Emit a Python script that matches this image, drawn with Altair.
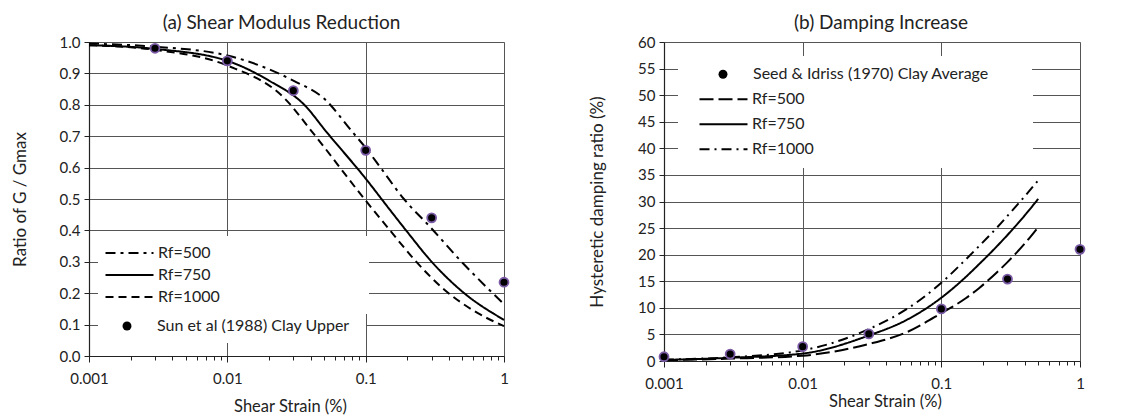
import altair as alt
import pandas as pd

FONT = "Lato"

# ---------- (a) Shear modulus reduction ----------
a_x750 = [0.001, 0.003, 0.01, 0.02, 0.036, 0.052, 0.1, 0.15, 0.2, 0.3, 0.5, 1.0]
a_rf750 = [0.99, 0.978, 0.94, 0.877, 0.80, 0.714, 0.565, 0.465, 0.395, 0.30, 0.205, 0.115]
a_x500 = [0.001, 0.003, 0.01, 0.03, 0.05, 0.08, 0.1, 0.128, 0.189, 0.294, 0.47, 1.0]
a_rf500 = [0.995, 0.985, 0.957, 0.877, 0.82, 0.714, 0.663, 0.60, 0.50, 0.41, 0.31, 0.165]
a_x1000 = [0.001, 0.003, 0.01, 0.026, 0.041, 0.1, 0.15, 0.227, 0.362, 0.6, 1.0]
a_rf1000 = [0.99, 0.975, 0.925, 0.82, 0.714, 0.495, 0.40, 0.305, 0.215, 0.145, 0.095]
sun_x = [0.003, 0.01, 0.03, 0.1, 0.3, 1.0]
sun_y = [0.98, 0.94, 0.845, 0.655, 0.44, 0.235]

# ---------- (b) Damping increase ----------
b_x = [0.001, 0.003, 0.01, 0.03, 0.055, 0.1, 0.15, 0.187, 0.25, 0.3, 0.4, 0.5]
b_rf500 = [0.15, 0.45, 1.0, 3.2, 5.3, 9.0, 11.8, 13.7, 16.6, 18.6, 22.1, 25.2]
b_rf750 = [0.2, 0.6, 1.4, 4.8, 7.6, 11.9, 15.8, 18.2, 21.5, 23.7, 27.4, 30.5]
b_rf1000 = [0.25, 0.7, 2.0, 6.0, 9.6, 14.7, 19.1, 21.6, 25.0, 27.3, 31.0, 34.0]
seed_x = [0.001, 0.003, 0.01, 0.03, 0.1, 0.3, 1.0]
seed_y = [0.8, 1.3, 2.7, 5.1, 9.8, 15.4, 21.0]

series_names = ["Rf=500", "Rf=750", "Rf=1000"]


def long_df(pairs):
    rows = []
    for name, xs, ys in pairs:
        for xv, yv in zip(xs, ys):
            rows.append({"series": name, "x": xv, "y": yv})
    return pd.DataFrame(rows)


a_lines = long_df([("Rf=500", a_x500, a_rf500), ("Rf=750", a_x750, a_rf750),
                   ("Rf=1000", a_x1000, a_rf1000)])
a_pts = pd.DataFrame({"x": sun_x, "y": sun_y, "src": "Sun et al (1988) Clay Upper"})
b_lines = long_df([("Rf=500", b_x, b_rf500), ("Rf=750", b_x, b_rf750), ("Rf=1000", b_x, b_rf1000)])
b_pts = pd.DataFrame({"x": seed_x, "y": seed_y, "src": "Seed & Idriss (1970)  Clay Average"})

x_ticks = []
for d in [0.001, 0.01, 0.1]:
    for k in range(1, 10):
        x_ticks.append(round(d * k, 6))
x_ticks.append(1.0)

is_decade = "abs(log(datum.value)/log(10) - round(log(datum.value)/log(10))) < 0.000001"
TXT = "#222"
PURPLE = "#7B5AA6"


def x_axis(title_x, title_pad):
    return alt.Axis(
        values=x_ticks,
        format="~g",
        labelExpr=f"({is_decade}) ? datum.label : ''",
        title="Shear Strain (%)",
        titleFont=FONT, titleFontSize=16.5, titleFontWeight="normal", titleColor=TXT,
        titleX=title_x, titlePadding=title_pad,
        labelFont=FONT, labelFontSize=15, labelColor=TXT, labelPadding=9,
        labelFlush=False, labelOverlap=False,
        grid=True,
        gridColor="#555",
        gridOpacity={"condition": {"test": is_decade, "value": 1}, "value": 0},
        tickSize={"condition": {"test": is_decade, "value": 6}, "value": 4},
        tickColor=TXT, domainColor=TXT, domainWidth=1.2,
    )


def y_axis(vals, fmt, title, pad):
    return alt.Axis(
        values=vals, format=fmt, title=title,
        titleFont=FONT, titleFontSize=17, titleFontWeight="normal", titleColor=TXT,
        titlePadding=pad,
        labelFont=FONT, labelFontSize=15, labelColor=TXT, labelPadding=4,
        grid=True, gridColor="#555", tickSize=5, tickColor=TXT,
        domainColor=TXT, domainWidth=1.2,
    )


def legend_common(cfg):
    # a white (invisible) title on the right only widens the white legend box
    return dict(
        title="0", titleOrient="right", titleColor="white", titleFont=FONT,
        titleFontSize=16, titlePadding=cfg["tp"],
        orient="none", legendX=cfg["x"], legendY=cfg["y"],
        clipHeight=cfg["clip"], symbolOffset=cfg["so"], labelOffset=cfg["lo"],
        labelFont=FONT, labelFontSize=16, labelColor=TXT, labelLimit=500,
        fillColor="white", padding=6, rowPadding=0,
    )


def panel(lines, pts, ydom, yvals, yfmt, ytitle, ytitle_pad, title, dashes, title_dx,
          xtitle_x, xtitle_pad, w, h, leg_lines, leg_pts):
    xs = alt.Scale(type="log", domain=[0.001, 1], nice=False)
    ys = alt.Scale(domain=ydom, nice=False)
    xa = x_axis(xtitle_x, xtitle_pad)
    ya = y_axis(yvals, yfmt, ytitle, ytitle_pad)
    line = alt.Chart(lines).mark_line(interpolate="monotone", strokeWidth=2, color="black").encode(
        x=alt.X("x:Q", scale=xs, axis=xa),
        y=alt.Y("y:Q", scale=ys, axis=ya),
        strokeDash=alt.StrokeDash(
            "series:N",
            scale=alt.Scale(domain=series_names, range=dashes),
            legend=alt.Legend(
                symbolType="stroke", symbolSize=48 * 48, symbolStrokeWidth=2.2,
                symbolStrokeColor="black", **legend_common(leg_lines),
            ),
        ),
        detail="series:N",
    )
    pt = alt.Chart(pts).mark_point(filled=True, size=80, fill="black", stroke=PURPLE,
                                   strokeWidth=1.8, opacity=1, clip=False).encode(
        x=alt.X("x:Q", scale=xs, axis=xa),
        y=alt.Y("y:Q", scale=ys, axis=ya),
        shape=alt.Shape(
            "src:N", scale=alt.Scale(range=["circle"]),
            legend=alt.Legend(
                symbolSize=80, symbolFillColor="black", symbolStrokeColor=PURPLE,
                symbolStrokeWidth=1.8, symbolOpacity=1, **legend_common(leg_pts),
            ),
        ),
    )
    return alt.layer(line, pt).resolve_legend(
        strokeDash="independent", shape="independent"
    ).properties(
        width=w, height=h,
        title=alt.TitleParams(title, font=FONT, fontSize=19, fontWeight="normal", color=TXT,
                              dx=title_dx, offset=2, frame="group"),
    )


left = panel(
    a_lines, a_pts, [0, 1], [round(i * 0.1, 1) for i in range(11)], ".1f",
    "Ratio of G / Gmax", 29.5,
    "(a) Shear Modulus Reduction",
    [[10, 5, 3, 5], [1, 0], [8, 5]], -15, 201, 12, 415, 314,
    leg_lines={"x": 9, "y": 194, "clip": 22, "so": 0, "lo": 3, "tp": 133},
    leg_pts={"x": 9, "y": 267, "clip": 22, "so": 15, "lo": 22, "tp": 0},
)
right = panel(
    b_lines, b_pts, [0, 60], list(range(0, 61, 5)), "d",
    "Hysteretic damping ratio (%)", 31.5,
    "(b) Damping Increase",
    [[14, 5], [1, 0], [10, 5, 2, 5]], 9, 221, 2, 416, 319,
    leg_lines={"x": 14, "y": 39, "clip": 24.5, "so": 14, "lo": 3, "tp": 203},
    leg_pts={"x": 14, "y": 14, "clip": 24.5, "so": 31, "lo": 22, "tp": 23},
)

chart = alt.hconcat(left, right, spacing=160, bounds="flush").resolve_scale(
    strokeDash="independent", shape="independent"
).resolve_legend(
    strokeDash="independent", shape="independent"
).properties(
    padding={"left": 3, "top": 5, "right": 5, "bottom": 5}
).configure_view(
    stroke="#888", strokeWidth=1.2
).configure(background="white")

chart.save("out.html", embed_options={"renderer": "svg", "actions": False})
